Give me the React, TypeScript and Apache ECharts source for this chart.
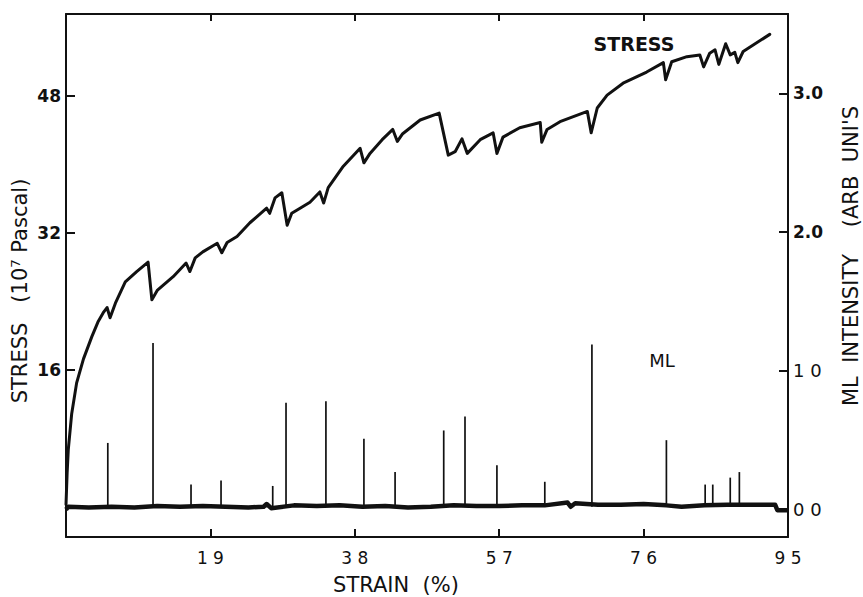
import React, { useEffect, useRef } from "react";
import * as echarts from "echarts";

// ---- data ----
const xTickValues = [0, 1.9, 3.8, 5.7, 7.6, 9.5];
const xTickLabels = ["", "1 9", "3 8", "5 7", "7 6", "9 5"];
const leftTickValues = [16, 32, 48];
const leftTickLabels = ["16", "32", "48"];
const rightTickValues = [0, 1, 2, 3];
const rightTickLabels = ["0 0", "1 0", "2.0", "3.0"];

const stressStrain = [
  0.0, 0.015, 0.03, 0.075, 0.14, 0.23, 0.34, 0.42, 0.49, 0.54, 0.58, 0.65, 0.78, 0.93, 1.08, 1.13, 1.2,
  1.41, 1.58, 1.63, 1.7, 1.8, 1.99, 2.05, 2.12, 2.25, 2.42, 2.64, 2.68, 2.75, 2.84, 2.91, 2.97, 3.08,
  3.21, 3.34, 3.39, 3.45, 3.64, 3.87, 3.92, 4.0, 4.16, 4.3, 4.36, 4.43, 4.66, 4.91, 5.03, 5.12, 5.21,
  5.28, 5.45, 5.62, 5.67, 5.75, 5.97, 6.24, 6.26, 6.33, 6.5, 6.86, 6.91, 6.99, 7.12, 7.33, 7.64, 7.86,
  7.89, 7.97, 8.17, 8.34, 8.39, 8.47, 8.54, 8.59, 8.68, 8.74, 8.8, 8.84, 8.91, 9.26,
];
const stressValues = [
  0.3, 4.0, 6.7, 10.9, 14.5, 17.3, 19.9, 21.6, 22.7, 23.3, 22.1, 23.8, 26.3, 27.5, 28.6, 24.2, 25.3,
  26.9, 28.5, 27.5, 29.1, 29.8, 30.8, 29.7, 30.9, 31.6, 33.2, 34.9, 34.3, 36.1, 36.7, 32.9, 34.3, 34.9,
  35.6, 36.8, 35.5, 37.3, 39.7, 41.9, 40.2, 41.3, 42.9, 44.1, 42.7, 43.6, 45.2, 46.0, 41.1, 41.5, 43.0,
  41.3, 42.9, 43.7, 41.3, 43.2, 44.3, 44.9, 42.6, 44.1, 45.0, 46.2, 43.7, 46.6, 48.1, 49.5, 50.8, 51.9,
  49.9, 52.0, 52.6, 52.8, 51.4, 53.0, 53.4, 51.7, 54.1, 52.8, 53.1, 51.9, 53.2, 55.2,
];

const mlBaseStrain = [
  0.0, 0.03, 0.3, 0.6, 0.9, 1.2, 1.5, 1.8, 2.1, 2.4, 2.6, 2.64, 2.7, 3.0, 3.3, 3.6, 3.9, 4.2, 4.5, 4.8,
  5.1, 5.4, 5.7, 6.0, 6.3, 6.6, 6.64, 6.7, 7.0, 7.3, 7.6, 7.9, 8.1, 8.4, 8.7, 9.0, 9.33, 9.36, 9.5,
];
const mlBaseValues = [
  0.0, 0.02, 0.015, 0.02, 0.015, 0.025, 0.02, 0.025, 0.02, 0.015, 0.02, 0.04, 0.01, 0.03, 0.025, 0.03,
  0.02, 0.025, 0.015, 0.02, 0.03, 0.025, 0.025, 0.03, 0.03, 0.05, 0.02, 0.045, 0.035, 0.035, 0.04, 0.03,
  0.02, 0.03, 0.035, 0.035, 0.035, -0.005, -0.005,
];

const spikeStrain = [
  0.55, 1.145, 1.645, 2.04, 2.72, 2.895, 3.42, 3.92, 4.33, 4.97, 5.25, 5.67, 6.3, 6.92, 7.9, 8.41, 8.51,
  8.74, 8.86,
];
const spikeHeight = [
  0.48, 1.2, 0.18, 0.21, 0.17, 0.77, 0.78, 0.51, 0.27, 0.57, 0.67, 0.32, 0.2, 1.19, 0.5, 0.18, 0.18,
  0.23, 0.27,
];

const INK = "#111";
const FONT = "DejaVu Sans";

export default function App() {
  const ref = useRef<HTMLDivElement>(null);

  useEffect(() => {
    if (!ref.current) return;
    const chart = echarts.init(ref.current, null, { renderer: "svg" });

    const stressData = stressStrain.map((x, i) => [x, stressValues[i]]);
    const mlBaseData = mlBaseStrain.map((x, i) => [x, mlBaseValues[i]]);
    const spikeData = spikeStrain.map((x, i) => [x, spikeHeight[i]]);

    const xLabel = (v: number) => {
      const i = xTickValues.findIndex((t) => Math.abs(t - v) < 1e-6);
      return i >= 0 ? xTickLabels[i] : "";
    };

    chart.setOption({
      animation: false,
      backgroundColor: "#fff",
      grid: { left: 66, right: 75, top: 14, bottom: 60 },
      xAxis: [
        {
          type: "value",
          position: "bottom",
          min: 0,
          max: 9.5,
          interval: 1.9,
          splitLine: { show: false },
          axisLine: { onZero: false, lineStyle: { color: INK, width: 2 } },
          axisTick: { inside: true, length: 8, lineStyle: { color: INK, width: 2 } },
          axisLabel: {
            formatter: xLabel,
            color: INK,
            fontFamily: FONT,
            fontSize: 17,
            margin: 12,
            showMinLabel: true,
            showMaxLabel: true,
          },
        },
        {
          type: "value",
          position: "top",
          min: 0,
          max: 9.5,
          interval: 1.9,
          splitLine: { show: false },
          axisLine: { onZero: false, lineStyle: { color: INK, width: 2 } },
          axisTick: { inside: true, length: 7, lineStyle: { color: INK, width: 2 } },
          axisLabel: { show: false },
        },
      ],
      yAxis: [
        {
          type: "value",
          position: "left",
          min: -3.5,
          max: 57.58,
          splitLine: { show: false },
          axisLine: { show: true, onZero: false, lineStyle: { color: INK, width: 2 } },
          axisTick: {
            show: true,
            inside: true,
            length: 9,
            customValues: leftTickValues,
            lineStyle: { color: INK, width: 2 },
          },
          axisLabel: {
            customValues: leftTickValues,
            formatter: (v: number) => leftTickLabels[leftTickValues.indexOf(v)] ?? "",
            color: INK,
            fontFamily: FONT,
            fontWeight: "bold",
            fontSize: 17,
            margin: 5,
          },
        },
        {
          type: "value",
          position: "right",
          min: -0.198,
          max: 3.572,
          splitLine: { show: false },
          axisLine: { show: true, onZero: false, lineStyle: { color: INK, width: 2 } },
          axisTick: {
            show: true,
            inside: true,
            length: 9,
            customValues: rightTickValues,
            lineStyle: { color: INK, width: 2 },
          },
          axisLabel: {
            customValues: rightTickValues,
            formatter: (v: number) => {
              const i = rightTickValues.indexOf(v);
              if (i < 0) return "";
              return i >= 2 ? `{b|${rightTickLabels[i]}}` : `{n|${rightTickLabels[i]}}`;
            },
            margin: 5,
            rich: {
              b: { color: INK, fontFamily: FONT, fontWeight: "bold", fontSize: 17 },
              n: { color: INK, fontFamily: FONT, fontSize: 18 },
            },
          },
        },
      ],
      graphic: [
        {
          type: "text",
          x: 20,
          y: 291,
          rotation: Math.PI / 2,
          style: {
            text: "STRESS   (10⁷ Pascal)",
            fill: INK,
            font: `21px "${FONT}"`,
            align: "center",
            verticalAlign: "middle",
          },
        },
        {
          type: "text",
          x: 851,
          y: 256,
          rotation: Math.PI / 2,
          style: {
            text: "ML  INTENSITY    (ARB  UNI'S",
            fill: INK,
            font: `21px "${FONT}"`,
            align: "center",
            verticalAlign: "middle",
          },
        },
        {
          type: "text",
          x: 396,
          y: 585,
          style: {
            text: "STRAIN  (%)",
            fill: INK,
            font: `21px "${FONT}"`,
            align: "center",
            verticalAlign: "middle",
          },
        },
        {
          type: "text",
          x: 634,
          y: 44,
          style: {
            text: "STRESS",
            fill: INK,
            font: `bold 19px "${FONT}"`,
            align: "center",
            verticalAlign: "middle",
          },
        },
        {
          type: "text",
          x: 662,
          y: 360,
          style: {
            text: "ML",
            fill: INK,
            font: `18px "${FONT}"`,
            align: "center",
            verticalAlign: "middle",
          },
        },
      ],
      series: [
        {
          name: "ML baseline",
          type: "line",
          xAxisIndex: 0,
          yAxisIndex: 1,
          data: mlBaseData,
          symbol: "none",
          lineStyle: { color: INK, width: 4.5, join: "round" },
          z: 2,
        },
        {
          name: "ML spikes",
          type: "custom",
          xAxisIndex: 0,
          yAxisIndex: 1,
          data: spikeData,
          encode: { x: 0, y: 1 },
          renderItem: (_params: any, api: any) => {
            const x = api.value(0);
            const h = api.value(1);
            const p0 = api.coord([x, 0.02]);
            const p1 = api.coord([x, h]);
            return {
              type: "line",
              shape: { x1: p0[0], y1: p0[1], x2: p1[0], y2: p1[1] },
              style: { stroke: INK, lineWidth: 1.7 },
            };
          },
          z: 3,
        },
        {
          name: "Stress",
          type: "line",
          xAxisIndex: 0,
          yAxisIndex: 0,
          data: stressData,
          symbol: "none",
          lineStyle: { color: INK, width: 3, join: "round", cap: "round" },
          z: 4,
        },
      ],
    });

    return () => chart.dispose();
  }, []);

  return (
    <div
      ref={ref}
      style={{ position: "fixed", left: 0, top: 0, width: 863, height: 597, background: "#fff" }}
    />
  );
}
